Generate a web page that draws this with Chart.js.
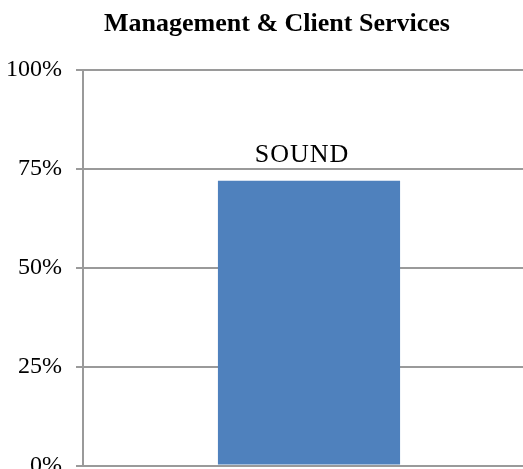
<!DOCTYPE html>
<html>
<head>
<meta charset="utf-8">
<script src="https://cdn.jsdelivr.net/npm/chart.js@4/dist/chart.umd.min.js"></script>
<style>
  html, body { margin: 0; padding: 0; background: #fff; overflow: hidden; }
  #wrap { position: relative; width: 523px; height: 469px; overflow: hidden; }
  #wrap canvas { position: absolute; left: 0; top: 0; }
</style>
</head>
<body>
<div id="wrap"><canvas id="chart" width="540" height="494"></canvas></div>
<script>
// ── Data ─────────────────────────────────────────────────────────────
const chartTitle = 'Management & Client Services';
const categories = ['Management & Client Services'];
const values     = [0.72];
const barLabels  = ['SOUND'];
const yTicks     = [0, 0.25, 0.5, 0.75, 1];

const SERIF = '"Liberation Serif", "Times New Roman", serif';

// title + label drawn above each bar
const textPlugin = {
    id: 'texts',
    afterDatasetsDraw(chart) {
        const ctx = chart.ctx;
        const meta = chart.getDatasetMeta(0);
        ctx.save();
        ctx.fillStyle = '#000';
        ctx.textAlign = 'center';
        ctx.textBaseline = 'alphabetic';

        ctx.font = 'bold 26px ' + SERIF;
        ctx.fillText(chartTitle, 277, 31);

        ctx.font = '26px ' + SERIF;
        ctx.letterSpacing = '1px';
        meta.data.forEach((bar, i) => {
            ctx.fillText(barLabels[i], bar.x - 7, bar.y - 19);
        });
        ctx.restore();
    }
};

new Chart(document.getElementById('chart'), {
    type: 'bar',
    data: {
        labels: categories,
        datasets: [{
            data: values,
            backgroundColor: '#4f81bd',
            borderWidth: 0,
            categoryPercentage: 1,
            barPercentage: 0.403,
        }]
    },
    options: {
        responsive: false,
        animation: false,
        layout: { padding: { left: 0, right: 5, top: 70, bottom: 0 } },
        plugins: {
            legend: { display: false },
            tooltip: { enabled: false },
            title: { display: false }
        },
        scales: {
            x: { display: false },
            y: {
                min: 0,
                max: 1,
                afterFit: s => { s.width = 83; },
                afterBuildTicks: s => { s.ticks = yTicks.map(v => ({ value: v })); },
                border: { display: true, color: '#9a9a9a', width: 2 },
                grid: { color: '#9a9a9a', lineWidth: 2, tickLength: 7 },
                ticks: {
                    padding: 14,
                    color: '#000',
                    font: { family: SERIF, size: 24 },
                    callback: v => Math.round(v * 100) + '%'
                }
            }
        }
    },
    plugins: [textPlugin]
});
</script>
</body>
</html>
